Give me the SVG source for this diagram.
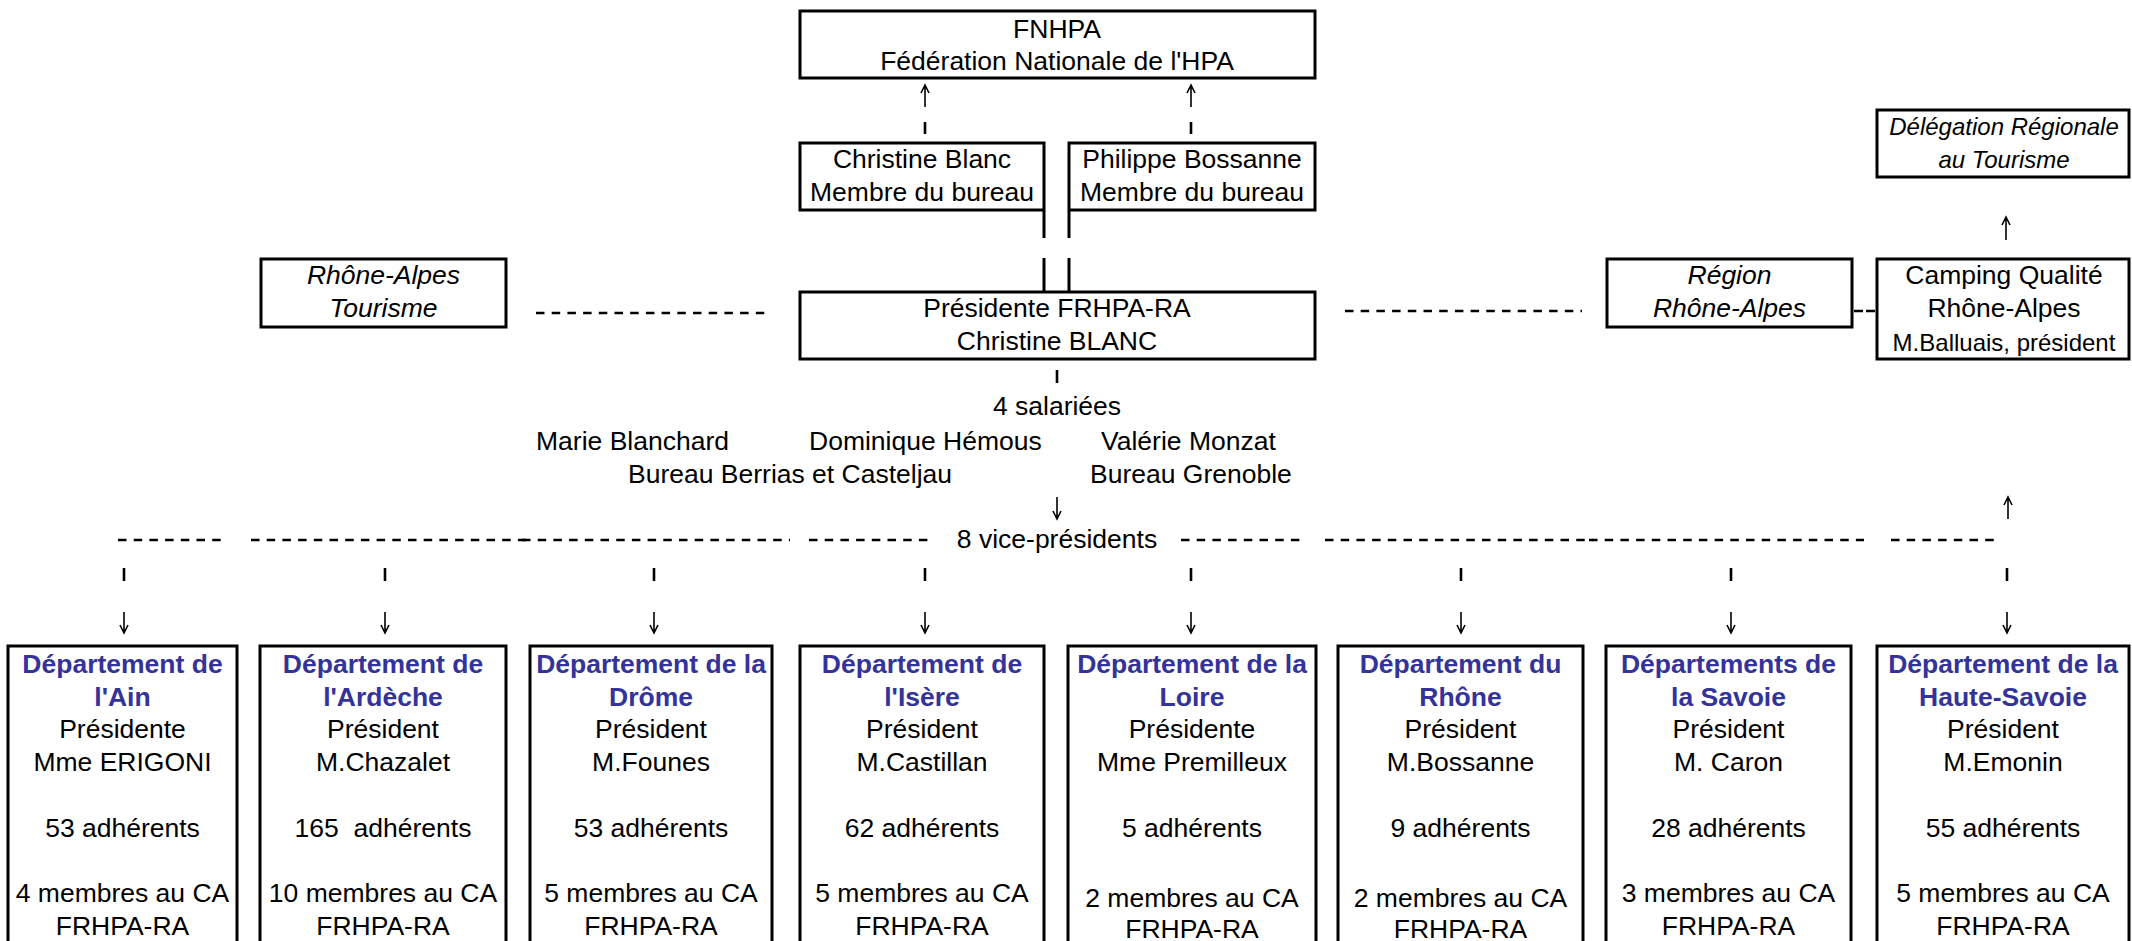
<svg xmlns="http://www.w3.org/2000/svg" width="2132" height="941" viewBox="0 0 2132 941">
<style>
text{font-family:"Liberation Sans",Arial,"DejaVu Sans",sans-serif;font-size:26.5px;fill:#000;text-anchor:middle}
.it{font-style:italic}
.sm{font-size:24px}
.st{text-anchor:start}
.t{font-weight:bold;fill:#333399}
.box{fill:#fff;stroke:#000;stroke-width:3}
.dash{stroke:#000;stroke-width:2.6;stroke-dasharray:8.5 7.2;fill:none}
.tick{stroke:#000;stroke-width:2.6;fill:none}
.arr{stroke:#000;stroke-width:1.6;fill:none}
.ln{stroke:#000;stroke-width:3;fill:none}
</style>
<rect width="2132" height="941" fill="#fff"/>

<g id="connectors">
  <!-- FNHPA links -->
  <path class="arr" d="M925 107V85M921 93L925 85L929 93"/>
  <path class="arr" d="M1191 107V85M1187 93L1191 85L1195 93"/>
  <path class="tick" d="M925 122V134M1191 122V134"/>
  <!-- links bureau members to presidente -->
  <path class="ln" d="M1044 211V238M1069 211V238M1044 258V291M1069 258V291"/>
  <!-- horizontal dashed links -->
  <path class="dash" d="M536 313H766"/>
  <path class="dash" d="M1345 311H1582"/>
  <path class="dash" style="stroke-dasharray:9 3" d="M1854 311H1876"/>
  <!-- delegation -->
  <path class="arr" d="M2006 240V217M2002 225L2006 217L2010 225"/>
  <!-- salaries -->
  <path class="tick" d="M1057 370V383"/>
  <path class="arr" d="M1057 497V519M1053 511L1057 519L1061 511"/>
  <path class="arr" d="M2008 519V497M2004 505L2008 497L2012 505"/>
  <!-- vice-presidents row -->
  <path class="dash" d="M118 540H224"/>
  <path class="dash" d="M251 540H526"/>
  <path class="dash" d="M522 540H790"/>
  <path class="dash" d="M809 540H934"/>
  <path class="dash" d="M1181 540H1306"/>
  <path class="dash" d="M1325 540H1593"/>
  <path class="dash" d="M1589 540H1864"/>
  <path class="dash" d="M1891 540H1997"/>
  <!-- ticks and arrows to departments -->
  <path class="tick" d="M124 568V581M385 568V581M654 568V581M925 568V581M1191 568V581M1461 568V581M1731 568V581M2007 568V581"/>
  <path class="arr" d="M124 612V633M120 625L124 633L128 625"/>
  <path class="arr" d="M385 612V633M381 625L385 633L389 625"/>
  <path class="arr" d="M654 612V633M650 625L654 633L658 625"/>
  <path class="arr" d="M925 612V633M921 625L925 633L929 625"/>
  <path class="arr" d="M1191 612V633M1187 625L1191 633L1195 625"/>
  <path class="arr" d="M1461 612V633M1457 625L1461 633L1465 625"/>
  <path class="arr" d="M1731 612V633M1727 625L1731 633L1735 625"/>
  <path class="arr" d="M2007 612V633M2003 625L2007 633L2011 625"/>
</g>

<g id="fnhpa">
  <rect class="box" x="800" y="11" width="515" height="67"/>
  <text x="1057" y="37.5">FNHPA</text>
  <text x="1057" y="70">Fédération Nationale de l'HPA</text>
</g>
<g id="blanc">
  <rect class="box" x="800" y="143" width="244" height="67"/>
  <text x="922" y="168">Christine Blanc</text>
  <text x="922" y="201">Membre du bureau</text>
</g>
<g id="bossanne">
  <rect class="box" x="1069" y="143" width="246" height="67"/>
  <text x="1192" y="168">Philippe Bossanne</text>
  <text x="1192" y="201">Membre du bureau</text>
</g>
<g id="presidente">
  <rect class="box" x="800" y="292" width="515" height="67"/>
  <text x="1057" y="317">Présidente FRHPA-RA</text>
  <text x="1057" y="350">Christine BLANC</text>
</g>
<g id="rhone-alpes-tourisme">
  <rect class="box" x="261" y="259" width="245" height="68"/>
  <text class="it" x="383.5" y="284">Rhône-Alpes</text>
  <text class="it" x="383.5" y="317">Tourisme</text>
</g>
<g id="region">
  <rect class="box" x="1607" y="259" width="245" height="68"/>
  <text class="it" x="1729.5" y="284">Région</text>
  <text class="it" x="1729.5" y="317">Rhône-Alpes</text>
</g>
<g id="camping">
  <rect class="box" x="1877" y="259" width="252" height="100"/>
  <text x="2004" y="284">Camping Qualité</text>
  <text x="2004" y="317">Rhône-Alpes</text>
  <text class="sm" x="2004" y="351">M.Balluais, président</text>
</g>
<g id="delegation">
  <rect class="box" x="1877" y="110" width="252" height="67"/>
  <text class="it sm" x="2004" y="135">Délégation Régionale</text>
  <text class="it sm" x="2004" y="168">au Tourisme</text>
</g>
<g id="salaries">
  <text x="1057" y="415">4 salariées</text>
  <text class="st" x="536" y="450">Marie Blanchard</text>
  <text class="st" x="809" y="450">Dominique Hémous</text>
  <text class="st" x="1101" y="450">Valérie Monzat</text>
  <text class="st" x="628" y="483">Bureau Berrias et Casteljau</text>
  <text class="st" x="1090" y="483">Bureau Grenoble</text>
</g>
<g id="vice-presidents">
  <text x="1057" y="548">8 vice-présidents</text>
</g>

<g id="dep-ain">
  <rect class="box" x="8" y="646" width="229" height="320"/>
  <text class="t" x="122.5" y="673">Département de</text>
  <text class="t" x="122.5" y="705.7">l'Ain</text>
  <text x="122.5" y="738.4">Présidente</text>
  <text x="122.5" y="771.1">Mme ERIGONI</text>
  <text x="122.5" y="836.5">53 adhérents</text>
  <text x="122.5" y="901.9">4 membres au CA</text>
  <text x="122.5" y="934.6">FRHPA-RA</text>
</g>
<g id="dep-ardeche">
  <rect class="box" x="260" y="646" width="246" height="320"/>
  <text class="t" x="383" y="673">Département de</text>
  <text class="t" x="383" y="705.7">l'Ardèche</text>
  <text x="383" y="738.4">Président</text>
  <text x="383" y="771.1">M.Chazalet</text>
  <text x="383" y="836.5" xml:space="preserve">165  adhérents</text>
  <text x="383" y="901.9">10 membres au CA</text>
  <text x="383" y="934.6">FRHPA-RA</text>
</g>
<g id="dep-drome">
  <rect class="box" x="530" y="646" width="242" height="320"/>
  <text class="t" x="651" y="673">Département de la</text>
  <text class="t" x="651" y="705.7">Drôme</text>
  <text x="651" y="738.4">Président</text>
  <text x="651" y="771.1">M.Founes</text>
  <text x="651" y="836.5">53 adhérents</text>
  <text x="651" y="901.9">5 membres au CA</text>
  <text x="651" y="934.6">FRHPA-RA</text>
</g>
<g id="dep-isere">
  <rect class="box" x="800" y="646" width="244" height="320"/>
  <text class="t" x="922" y="673">Département de</text>
  <text class="t" x="922" y="705.7">l'Isère</text>
  <text x="922" y="738.4">Président</text>
  <text x="922" y="771.1">M.Castillan</text>
  <text x="922" y="836.5">62 adhérents</text>
  <text x="922" y="901.9">5 membres au CA</text>
  <text x="922" y="934.6">FRHPA-RA</text>
</g>
<g id="dep-loire">
  <rect class="box" x="1068" y="646" width="248" height="320"/>
  <text class="t" x="1192" y="673">Département de la</text>
  <text class="t" x="1192" y="705.7">Loire</text>
  <text x="1192" y="738.4">Présidente</text>
  <text x="1192" y="771.1">Mme Premilleux</text>
  <text x="1192" y="836.5">5 adhérents</text>
  <text x="1192" y="907">2 membres au CA</text>
  <text x="1192" y="938">FRHPA-RA</text>
</g>
<g id="dep-rhone">
  <rect class="box" x="1338" y="646" width="245" height="320"/>
  <text class="t" x="1460.5" y="673">Département du</text>
  <text class="t" x="1460.5" y="705.7">Rhône</text>
  <text x="1460.5" y="738.4">Président</text>
  <text x="1460.5" y="771.1">M.Bossanne</text>
  <text x="1460.5" y="836.5">9 adhérents</text>
  <text x="1460.5" y="907">2 membres au CA</text>
  <text x="1460.5" y="938">FRHPA-RA</text>
</g>
<g id="dep-savoie">
  <rect class="box" x="1606" y="646" width="245" height="320"/>
  <text class="t" x="1728.5" y="673">Départements de</text>
  <text class="t" x="1728.5" y="705.7">la Savoie</text>
  <text x="1728.5" y="738.4">Président</text>
  <text x="1728.5" y="771.1">M. Caron</text>
  <text x="1728.5" y="836.5">28 adhérents</text>
  <text x="1728.5" y="901.9">3 membres au CA</text>
  <text x="1728.5" y="934.6">FRHPA-RA</text>
</g>
<g id="dep-haute-savoie">
  <rect class="box" x="1877" y="646" width="252" height="320"/>
  <text class="t" x="2003" y="673">Département de la</text>
  <text class="t" x="2003" y="705.7">Haute-Savoie</text>
  <text x="2003" y="738.4">Président</text>
  <text x="2003" y="771.1">M.Emonin</text>
  <text x="2003" y="836.5">55 adhérents</text>
  <text x="2003" y="901.9">5 membres au CA</text>
  <text x="2003" y="934.6">FRHPA-RA</text>
</g>
</svg>
